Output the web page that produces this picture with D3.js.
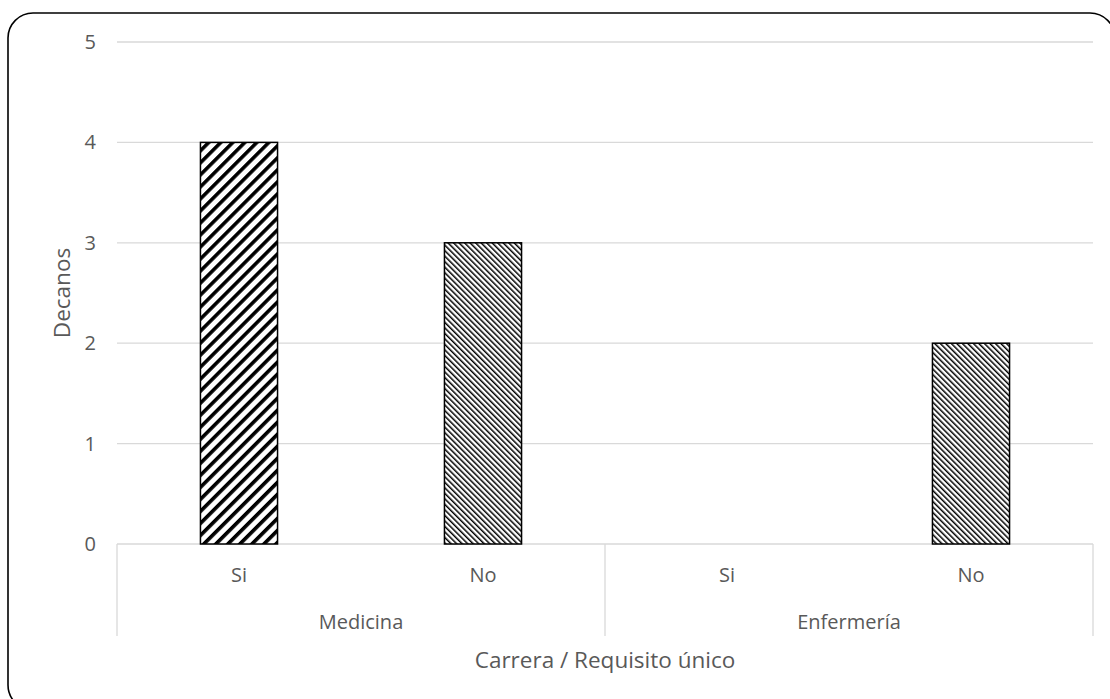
<!DOCTYPE html>
<html>
<head>
<meta charset="utf-8">
<script src="https://cdn.jsdelivr.net/npm/d3@7"></script>
<style>
  body { margin: 0; background: #fff; }
  text { font-family: "Open Sans", "Noto Sans", sans-serif; fill: #595959; }
</style>
</head>
<body>
<script>
// data
var carreras = ["Medicina", "Enfermería"]
var requisitos = ["Si", "No"]
var valoresSi = [4, 0]
var valoresNo = [3, 2]
var yTicks = [0, 1, 2, 3, 4, 5]

var W = 1110, H = 699
var plot = {left: 117, right: 1093, top: 42, bottom: 544}

// one row per bar slot
var rows = []
carreras.forEach(function (c, i) {
    requisitos.forEach(function (r) {
        rows.push({carrera: c, req: r, key: c + "|" + r,
                   value: r == "Si" ? valoresSi[i] : valoresNo[i]})
    })
})

var svg = d3.select("body").append("svg")
    .attr("width", W)
    .attr("height", H)

var defs = svg.append("defs")

// wide upward diagonal
var p1 = defs.append("pattern")
    .attr("id", "pSi")
    .attr("patternUnits", "userSpaceOnUse")
    .attr("width", 8.5).attr("height", 8.5)
    .attr("patternTransform", "rotate(45)")
p1.append("rect").attr("width", 8.5).attr("height", 8.5).attr("fill", "#fff")
p1.append("rect").attr("width", 3.6).attr("height", 8.5).attr("fill", "#000")

// dark downward diagonal
var p2 = defs.append("pattern")
    .attr("id", "pNo")
    .attr("patternUnits", "userSpaceOnUse")
    .attr("width", 3.9).attr("height", 3.9)
    .attr("patternTransform", "rotate(-45)")
p2.append("rect").attr("width", 3.9).attr("height", 3.9).attr("fill", "#fff")
p2.append("rect").attr("width", 1.5).attr("height", 3.9).attr("fill", "#000")

// outer frame
svg.append("rect")
    .attr("x", 8).attr("y", 13)
    .attr("width", 1107).attr("height", 697)
    .attr("rx", 25).attr("ry", 25)
    .attr("fill", "none")
    .attr("stroke", "#000")
    .attr("stroke-width", 1.6)

var yscale = d3.scaleLinear().domain([0, 5]).range([plot.bottom, plot.top])

var xscale = d3.scaleBand()
    .domain(rows.map(function (d) { return d.key }))
    .range([plot.left, plot.right])
    .paddingInner(0.684)
    .paddingOuter(0.342)

var slot = d3.scaleBand()
    .domain(rows.map(function (d) { return d.key }))
    .range([plot.left, plot.right])

var group = d3.scaleBand()
    .domain(carreras)
    .range([plot.left, plot.right])

// gridlines
svg.append("g")
    .selectAll("line")
    .data(yTicks)
    .enter()
    .append("line")
    .attr("x1", plot.left).attr("x2", plot.right)
    .attr("y1", function (t) { return yscale(t) })
    .attr("y2", function (t) { return yscale(t) })
    .attr("stroke", "#d9d9d9")
    .attr("stroke-width", 1.3)

svg.append("g")
    .selectAll("text")
    .data(yTicks)
    .enter()
    .append("text")
    .attr("x", 96)
    .attr("y", function (t) { return yscale(t) })
    .attr("dy", "0.35em")
    .attr("text-anchor", "end")
    .attr("font-size", 20)
    .text(function (t) { return t })

// category dividers
var divs = [plot.left].concat(carreras.map(function (c) { return group(c) + group.bandwidth() }))
svg.append("g")
    .selectAll("line")
    .data(divs)
    .enter()
    .append("line")
    .attr("x1", function (d) { return d }).attr("x2", function (d) { return d })
    .attr("y1", plot.bottom).attr("y2", 636)
    .attr("stroke", "#d9d9d9")
    .attr("stroke-width", 1.3)

// bars
svg.append("g")
    .selectAll("rect")
    .data(rows.filter(function (d) { return d.value > 0 }))
    .enter()
    .append("rect")
    .attr("x", function (d) { return xscale(d.key) })
    .attr("y", function (d) { return yscale(d.value) })
    .attr("width", xscale.bandwidth())
    .attr("height", function (d) { return yscale(0) - yscale(d.value) })
    .attr("fill", function (d) { return d.req == "Si" ? "url(#pSi)" : "url(#pNo)" })
    .attr("stroke", "#000")
    .attr("stroke-width", 1.5)

// sub labels
svg.append("g")
    .selectAll("text")
    .data(rows)
    .enter()
    .append("text")
    .attr("x", function (d) { return slot(d.key) + slot.bandwidth() / 2 })
    .attr("y", 575)
    .attr("dy", "0.35em")
    .attr("text-anchor", "middle")
    .attr("font-size", 20)
    .text(function (d) { return d.req })

svg.append("g")
    .selectAll("text")
    .data(carreras)
    .enter()
    .append("text")
    .attr("x", function (c) { return group(c) + group.bandwidth() / 2 })
    .attr("y", 622)
    .attr("dy", "0.35em")
    .attr("text-anchor", "middle")
    .attr("font-size", 20)
    .text(function (c) { return c })

// axis titles
svg.append("text")
    .attr("x", (plot.left + plot.right) / 2)
    .attr("y", 660)
    .attr("dy", "0.35em")
    .attr("text-anchor", "middle")
    .attr("font-size", 22.5)
    .text("Carrera / Requisito único")

svg.append("text")
    .attr("transform", "translate(62," + ((plot.top + plot.bottom) / 2) + ") rotate(-90)")
    .attr("dy", "0.35em")
    .attr("text-anchor", "middle")
    .attr("font-size", 22.5)
    .text("Decanos")
</script>
</body>
</html>
